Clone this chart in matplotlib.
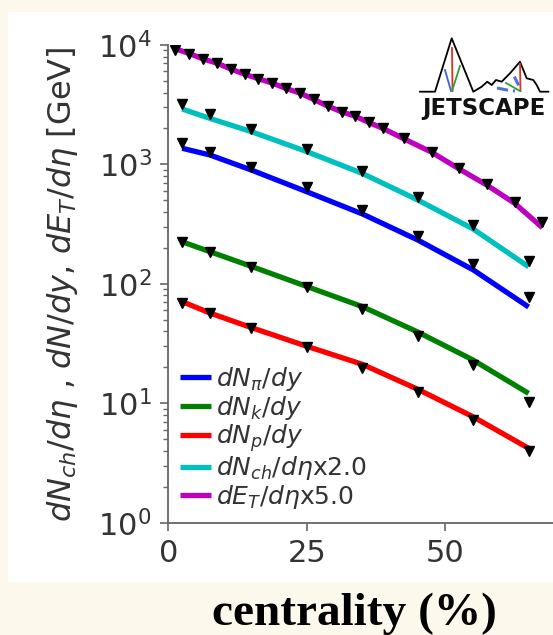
import matplotlib
matplotlib.use('Agg')
import matplotlib.pyplot as plt
from matplotlib.patches import Rectangle

# ---------------- data ----------------
cent_id = [2.5, 7.5, 15, 25, 35, 45, 55, 65]
cent_et = [1.25, 3.75, 6.25, 8.75, 11.25, 13.75, 16.25, 18.75, 21.25, 23.75,
           26.25, 28.75, 31.25, 33.75, 36.25, 38.75, 42.5, 47.5, 52.5, 57.5,
           62.5, 67.5]

# model curves
pi_model = [1365, 1200, 897, 590, 385, 233, 131, 64]
k_model = [225, 186, 140, 95, 64.5, 39.5, 23.0, 12.1]
p_model = [71, 57, 43, 30, 21.2, 13.1, 7.7, 4.2]
ch_model = [2910, 2430, 1880, 1280, 841, 504, 288, 139]
et_model = [9300, 8500, 7650, 7050, 6300, 5700, 5220, 4800, 4320, 3960, 3500,
            3080, 2760, 2530, 2240, 2000, 1640, 1265, 915, 670, 472, 295]

# experimental points
pi_data = [1520, 1260, 957, 650, 415, 253, 147, 77]
k_data = [222, 184, 139, 93.5, 61, 36.6, 20.9, 10.3]
p_data = [68.7, 57.3, 42.9, 29.4, 19.6, 12.5, 7.3, 4.0]
ch_data = [3210, 2640, 1980, 1350, 881, 537, 311, 156]
et_data = [9080, 8410, 7590, 7030, 6300, 5690, 5230, 4830, 4340, 3990, 3510,
           3080, 2760, 2540, 2250, 2010, 1650, 1280, 927, 685, 488, 331]

labels = [r'$dN_{\pi}/dy$', r'$dN_{k}/dy$', r'$dN_{p}/dy$',
          r'$dN_{ch}/d\eta$x2.0', r'$dE_{T}/d\eta$x5.0']
colors = ['b', 'g', 'r', 'c', 'm']
xticks = [0, 25, 50]

# ---------------- figure ----------------
W, H = 553, 635
fig = plt.figure(figsize=(W / 100, H / 100), dpi=100, facecolor='#FDF8EC')
fig.patches.append(Rectangle((8 / W, (H - 582) / H), (W - 8) / W, (582 - 12) / H,
                             transform=fig.transFigure, facecolor='white',
                             edgecolor='none', zorder=-10))

ax = fig.add_axes([168.3 / W, (H - 522.7) / H, (W - 168.3) / W, (522.7 - 45) / H])
ax.set_facecolor('white')
ax.set_yscale('log')

series_x = [cent_id, cent_id, cent_id, cent_id, cent_et]
models = [pi_model, k_model, p_model, ch_model, et_model]
datas = [pi_data, k_data, p_data, ch_data, et_data]
for xs, m, c, lab in zip(series_x, models, colors, labels):
    ax.plot(xs, m, color=c, lw=3.8, label=lab, zorder=2, solid_capstyle='butt')
for xs, d in zip(series_x, datas):
    ax.plot(xs, d, linestyle='none', marker='v', color='k', ms=6.5, zorder=3)

ax.set_xlim(0, 69.4)
ax.set_ylim(1, 1e4)
ax.set_xticks(xticks)

for s in ['top', 'right']:
    ax.spines[s].set_visible(False)
for s in ['left', 'bottom']:
    ax.spines[s].set_color('#666666')
    ax.spines[s].set_linewidth(1.3)
ax.tick_params(which='major', length=6, width=1.2, color='#666666',
               labelsize=22, labelcolor='#333333', pad=6)
ax.tick_params(which='minor', length=3.5, width=1.0, color='#666666')

ax.set_ylabel(r'$dN_{ch}/d\eta$ , $dN/dy$, $dE_{T}/d\eta$ [GeV]',
              fontsize=23, color='#333333')
ax.yaxis.set_label_coords((80 - 168.3) / (W - 168.3), 0.5)

leg = ax.legend(loc='upper left', bbox_to_anchor=(0.030, 0.330), frameon=False,
                fontsize=18, handlelength=1.25, handletextpad=0.2,
                labelspacing=0.02, borderpad=0, borderaxespad=0)
for t in leg.get_texts():
    t.set_color('#333333')

fig.text(354 / W, 1 - 625 / H, 'centrality (%)', ha='center', va='baseline',
         fontsize=34, fontweight='bold', family='Liberation Serif', color='black')

# ---------------- JETSCAPE logo (decoration) ----------------
lg = fig.add_axes([415 / W, 1 - 120 / H, 138 / W, 88 / H])
lg.set_xlim(415, 553)
lg.set_ylim(120, 32)
lg.axis('off')
lg.patch.set_alpha(0)
mx = [420, 435, 451.7, 473.3, 481.7, 487.3, 491.7, 496, 501.7, 510, 520, 526.7,
      533.3, 536.7, 540, 548.3]
my = [91.7, 91.7, 38.3, 91.7, 86.7, 81.7, 85, 80, 81.7, 73.3, 61.7, 78.3, 80,
      85, 91.7, 91.7]
lg.plot(mx, my, color='black', lw=1.3)
lg.plot([452, 452.5], [48, 91], color='#e03020', lw=1.3)
lg.plot([445, 451], [70, 91], color='#4060e0', lw=1.3)
lg.plot([460, 452], [66, 91], color='#30a030', lw=1.3)
lg.plot([520, 520.5], [64, 91], color='#e03020', lw=1.3)
lg.plot([497, 507, 515], [88, 90, 91], color='#5070e0', lw=2.2, ls='--')
lg.plot([515, 518], [78, 84], color='#5070e0', lw=2.2)
lg.plot([506, 520], [83, 91], color='#30a030', lw=1.3)
lg.text(484, 108.5, 'JETSCAPE', ha='center', va='center', fontsize=16.5,
        fontweight='bold', family='DejaVu Sans', color='#111111')

fig.savefig('out.png', dpi=100, facecolor=fig.get_facecolor())
